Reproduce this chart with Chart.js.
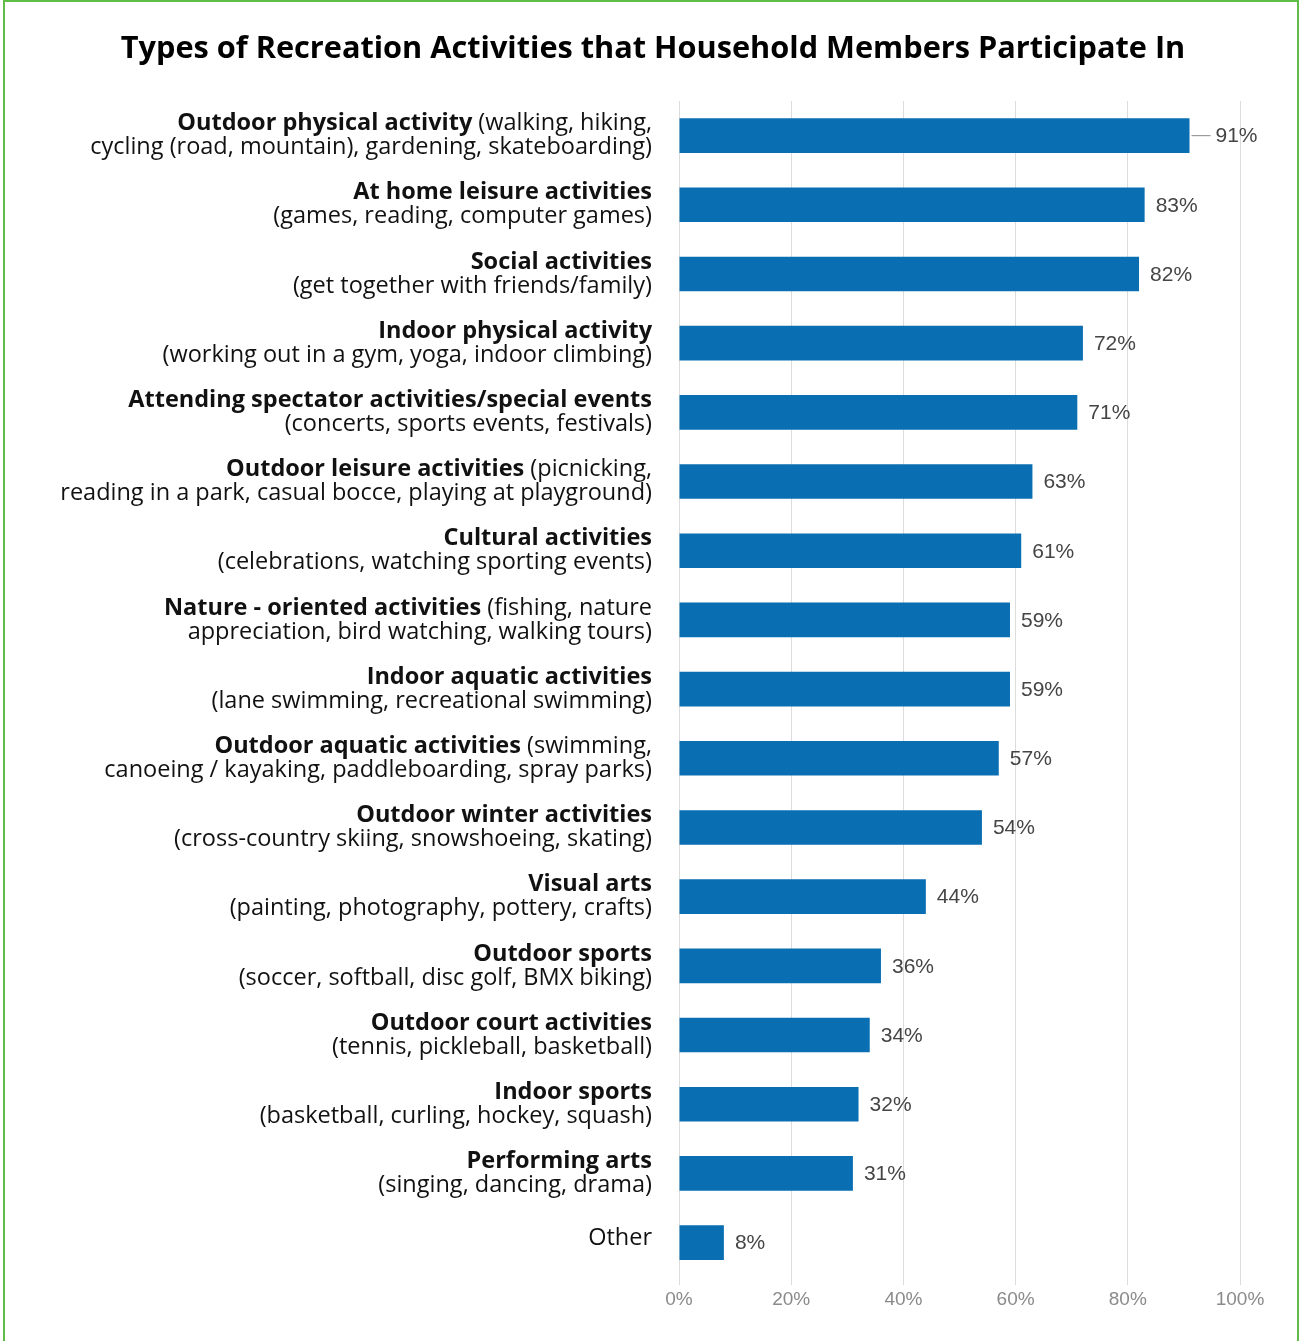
<!DOCTYPE html>
<html>
<head>
<meta charset="utf-8">
<title>Types of Recreation Activities</title>
<script src="https://cdn.jsdelivr.net/npm/chart.js@4.4.1/dist/chart.umd.min.js"></script>
<style>
  html, body { margin: 0; padding: 0; background: #fff; }
  #wrap { position: relative; width: 1300px; height: 1341px; }
  #frame {
    position: absolute; left: 3px; top: 0; width: 1292px; height: 1345px;
    border: 2px solid #5fbd48; border-bottom: none; pointer-events: none;
  }
  canvas { display: block; }
</style>
</head>
<body>
<div id="wrap">
  <canvas id="chart" width="1300" height="1341"></canvas>
  <div id="frame"></div>
</div>
<script>
const chartTitle = "Types of Recreation Activities that Household Members Participate In";

// activity names (bold part of each label)
const activityNames = [
  "Outdoor physical activity",
  "At home leisure activities",
  "Social activities",
  "Indoor physical activity",
  "Attending spectator activities/special events",
  "Outdoor leisure activities",
  "Cultural activities",
  "Nature - oriented activities",
  "Indoor aquatic activities",
  "Outdoor aquatic activities",
  "Outdoor winter activities",
  "Visual arts",
  "Outdoor sports",
  "Outdoor court activities",
  "Indoor sports",
  "Performing arts",
  "Other"
];

// examples that follow the name on the first line
const detailsFirstLine = [
  "(walking, hiking,", "", "", "", "", "(picnicking,", "", "(fishing, nature",
  "", "(swimming,", "", "", "", "", "", "", ""
];

// examples on the second line
const detailsSecondLine = [
  "cycling (road, mountain), gardening, skateboarding)",
  "(games, reading, computer games)",
  "(get together with friends/family)",
  "(working out in a gym, yoga, indoor climbing)",
  "(concerts, sports events, festivals)",
  "reading in a park, casual bocce, playing at playground)",
  "(celebrations, watching sporting events)",
  "appreciation, bird watching, walking tours)",
  "(lane swimming, recreational swimming)",
  "canoeing / kayaking, paddleboarding, spray parks)",
  "(cross-country skiing, snowshoeing, skating)",
  "(painting, photography, pottery, crafts)",
  "(soccer, softball, disc golf, BMX biking)",
  "(tennis, pickleball, basketball)",
  "(basketball, curling, hockey, squash)",
  "(singing, dancing, drama)",
  ""
];

// share of respondents (%)
const participation = [91, 83, 82, 72, 71, 63, 61, 59, 59, 57, 54, 44, 36, 34, 32, 31, 8];

const xTicks = [0, 20, 40, 60, 80, 100];

const LABEL_FONT = "'Open Sans', 'Noto Sans', sans-serif";
const VALUE_FONT = "'Liberation Sans', Arial, sans-serif";

// title centred over the whole canvas
const titleText = {
  id: "titleText",
  afterDraw(chart) {
    const { ctx } = chart;
    ctx.save();
    ctx.font = "bold 30.7px " + LABEL_FONT;
    ctx.fillStyle = "#000";
    ctx.textAlign = "center";
    ctx.textBaseline = "middle";
    ctx.fillText(chartTitle, 653, 49);
    ctx.restore();
  }
};

// category labels: bold name + regular examples, right aligned
const categoryLabels = {
  id: "categoryLabels",
  afterDraw(chart) {
    const { ctx, scales: { y } } = chart;
    const right = 652;
    const bold = "bold 23.5px " + LABEL_FONT;
    const normal = "23.5px " + LABEL_FONT;
    ctx.save();
    ctx.fillStyle = "#111";
    ctx.textBaseline = "middle";
    ctx.textAlign = "left";
    activityNames.forEach((name, i) => {
      const yc = y.getPixelForValue(i);
      if (!detailsSecondLine[i]) {
        ctx.font = normal;
        ctx.fillText(name, right - ctx.measureText(name).width, yc - 4);
        return;
      }
      const y1 = yc - 12, y2 = yc + 12;
      ctx.font = normal;
      const rest = detailsFirstLine[i] ? " " + detailsFirstLine[i] : "";
      const restW = ctx.measureText(rest).width;
      ctx.font = bold;
      const nameW = ctx.measureText(name).width;
      ctx.fillText(name, right - restW - nameW, y1);
      if (rest) {
        ctx.font = normal;
        ctx.fillText(rest, right - restW, y1);
      }
      ctx.font = normal;
      const l2 = detailsSecondLine[i];
      ctx.fillText(l2, right - ctx.measureText(l2).width, y2);
    });
    ctx.restore();
  }
};

// value labels at the end of each bar
const valueLabels = {
  id: "valueLabels",
  afterDatasetsDraw(chart) {
    const { ctx } = chart;
    const bars = chart.getDatasetMeta(0).data;
    ctx.save();
    ctx.font = "21px " + VALUE_FONT;
    ctx.fillStyle = "#454545";
    ctx.textBaseline = "middle";
    bars.forEach((bar, i) => {
      let x = bar.x + 11;
      if (i === 0) {
        // leader line for the longest bar
        ctx.strokeStyle = "#9a9a9a";
        ctx.lineWidth = 1.2;
        ctx.beginPath();
        ctx.moveTo(bar.x + 2, bar.y);
        ctx.lineTo(bar.x + 21, bar.y);
        ctx.stroke();
        x = bar.x + 26;
      }
      ctx.fillText(participation[i] + "%", x, bar.y + 1);
    });
    ctx.restore();
  }
};

new Chart(document.getElementById("chart"), {
  type: "bar",
  data: {
    labels: activityNames,
    datasets: [{
      data: participation,
      backgroundColor: "#0a6eb2",
      barPercentage: 0.5,
      categoryPercentage: 1.0
    }]
  },
  options: {
    indexAxis: "y",
    responsive: false,
    animation: false,
    layout: { padding: { top: 101, right: 60, bottom: 27, left: 0 } },
    plugins: {
      legend: { display: false },
      tooltip: { enabled: false },
      title: { display: false }
    },
    scales: {
      x: {
        min: 0,
        max: 100,
        afterBuildTicks(scale) {
          scale.ticks = xTicks.map(v => ({ value: v }));
        },
        ticks: {
          callback: v => v + "%",
          color: "#8a8a8a",
          font: { family: VALUE_FONT, size: 19 },
          padding: 3,
          maxRotation: 0
        },
        grid: { color: "#dcdcdc", lineWidth: 1, tickLength: 8 },
        border: { display: false }
      },
      y: {
        ticks: { display: false },
        grid: { display: false },
        border: { display: false },
        afterFit(scale) { scale.width = 679; }
      }
    }
  },
  plugins: [titleText, categoryLabels, valueLabels]
});
</script>
</body>
</html>
